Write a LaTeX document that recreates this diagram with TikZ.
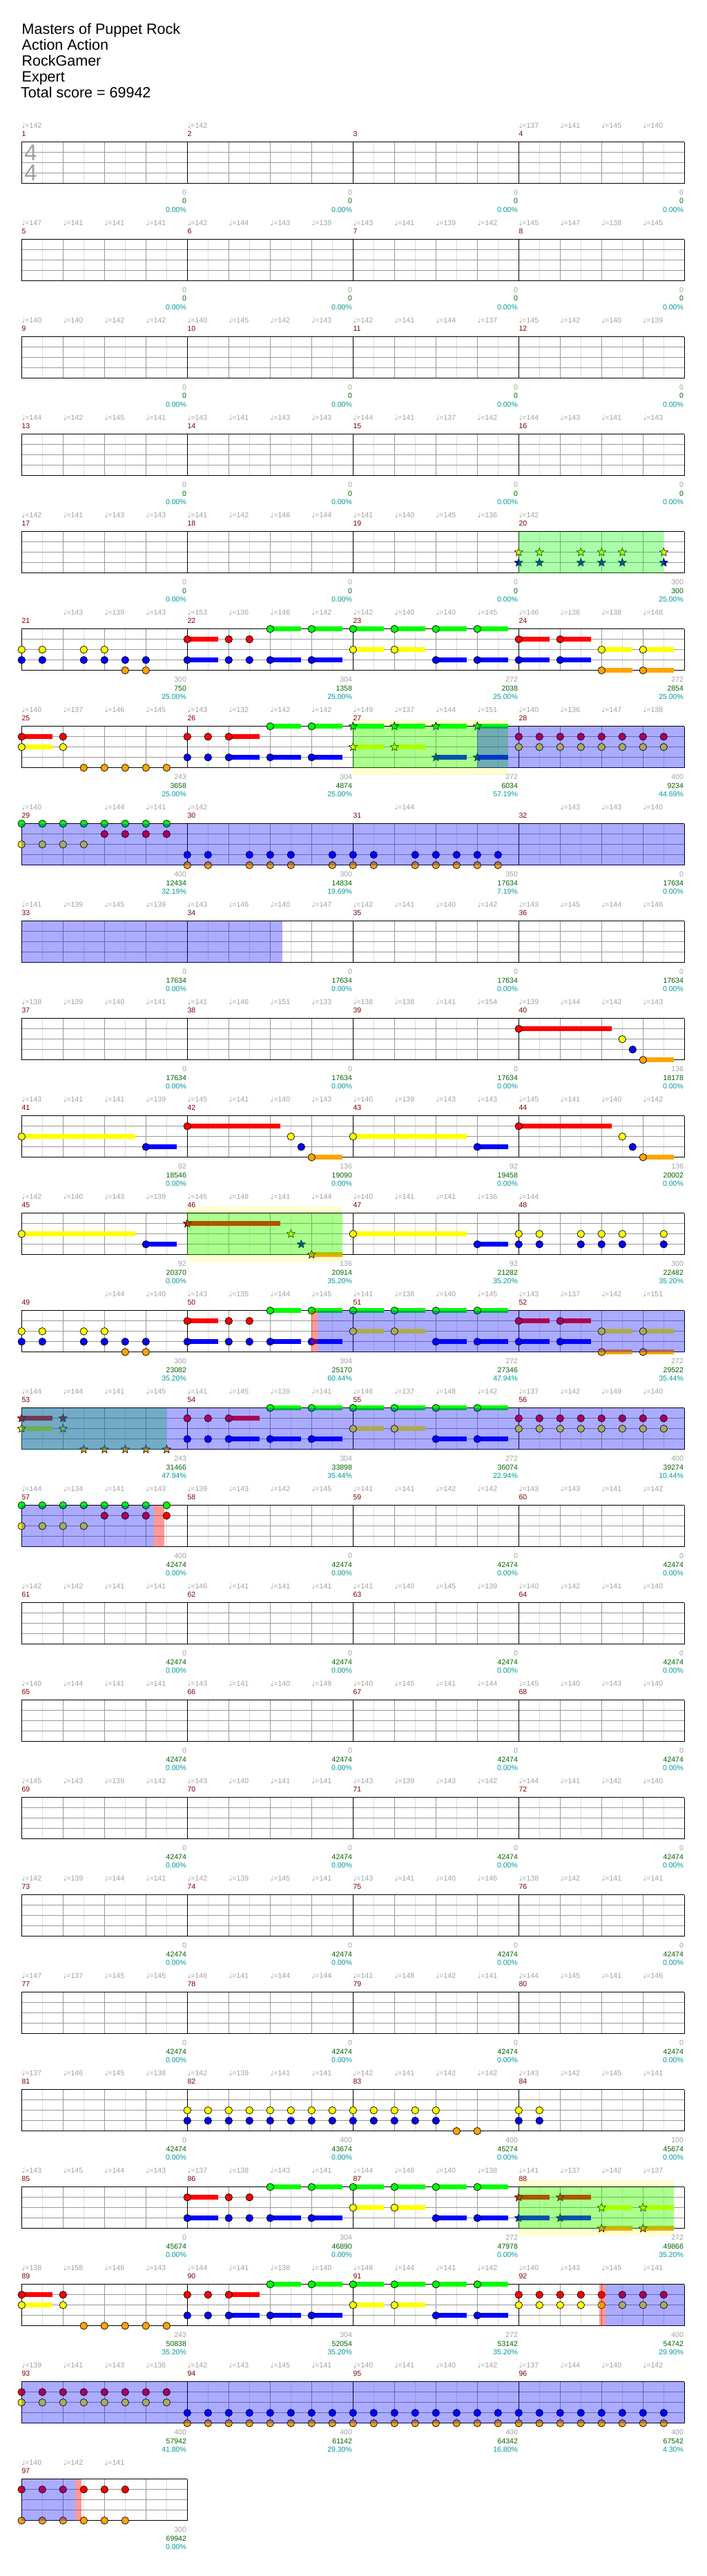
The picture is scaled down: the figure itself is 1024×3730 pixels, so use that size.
\documentclass[tikz,border=0pt]{standalone}
\usepackage{fontspec}
\setmainfont{Liberation Sans}
\newfontfamily\notefont{DejaVu Sans}
\usetikzlibrary{shapes.geometric}

\definecolor{gemgreen}{RGB}{0,255,0}
\definecolor{gemred}{RGB}{255,0,0}
\definecolor{gemyellow}{RGB}{255,255,0}
\definecolor{gemblue}{RGB}{0,0,255}
\definecolor{gemorange}{RGB}{255,165,0}
\definecolor{barred}{RGB}{128,0,0}
\definecolor{softgray}{RGB}{160,160,160}
\definecolor{beatgray}{RGB}{153,153,153}
\definecolor{halfgray}{RGB}{221,221,221}
\definecolor{totalgreen}{RGB}{0,100,0}
\definecolor{pctcyan}{RGB}{0,153,153}
\definecolor{bandyellow}{RGB}{255,255,208}

\newcommand{\qn}{{\notefont ♩}}
\newcommand{\smallfont}{\fontsize{10.5}{11}\selectfont}

\tikzset{
    gem/.style={circle, draw=black, line width=0.7pt, inner sep=0pt, minimum size=10.5pt},
    stargem/.style={star, star points=5, star point ratio=2.3, draw=black, line width=0.6pt, inner sep=0pt, minimum size=12.5pt},
    lane0/.style={fill=gemgreen},
    lane1/.style={fill=gemred},
    lane2/.style={fill=gemyellow},
    lane3/.style={fill=gemblue},
    lane4/.style={fill=gemorange},
    halfline/.style={draw=halfgray, line width=1pt},
    beatline/.style={draw=beatgray, line width=1pt},
    barline/.style={draw=black, line width=1pt},
    tempo/.style={font=\smallfont, text=softgray, anchor=base west, inner sep=0pt},
    barno/.style={font=\smallfont, text=barred, anchor=base west, inner sep=0pt},
    pts/.style={font=\smallfont, text=softgray, anchor=base east, inner sep=0pt},
    total/.style={font=\smallfont, text=totalgreen, anchor=base east, inner sep=0pt},
    pct/.style={font=\smallfont, text=pctcyan, anchor=base east, inner sep=0pt},
    title/.style={font=\fontsize{21.5}{23}\selectfont, anchor=base west, inner sep=0pt},
    timesig/.style={font=\fontsize{33}{33}\selectfont, text=softgray, inner sep=0pt},
    spzone/.style={fill=gemgreen, fill opacity=0.33},
    odzone/.style={fill=gemblue, fill opacity=0.33},
    endzone/.style={fill=gemred, fill opacity=0.4},
    spband/.style={fill=bandyellow}
}

% staff of #1 measures, local units: eighth notes across, lanes down
\newcommand{\fretgrid}[1]{%
    \pgfmathtruncatemacro{\nend}{8*#1}%
    \pgfmathtruncatemacro{\nlast}{8*#1-1}%
    \foreach \pa in {1,3,...,\nlast} \draw[halfline] (\pa,0) -- (\pa,4);
    \foreach \pa in {2,4,...,\nlast} \draw[beatline] (\pa,0) -- (\pa,4);
    \foreach \la in {1,2,3} \draw[beatline] (0,\la) -- (\nend,\la);
    \foreach \pa in {0,8,...,\nend} \draw[barline] (\pa,0) -- (\pa,4);
    \draw[barline] (0,0) -- (\nend,0) (0,4) -- (\nend,4);
}
% #1 row, #2 first measure, #3 measures
\newcommand{\barnos}[3]{%
    \foreach \k in {1,...,#3} {
        \pgfmathtruncatemacro{\mm}{#2+\k-1}
        \node[barno] (bar\mm) at (8*\k-8,-0.533) {\mm};
    }
}
\newcommand{\alltempos}[2]{%
    \foreach \v [count=\i from 0] in {#2}
        \node[tempo] (tp#1-\i) at (2*\i,-1.333) {\qn=\v};
}
\newcommand{\sometempos}[2]{%
    \foreach \b/\v in {#2}
        \node[tempo] (tp#1-\b) at (\b,-1.333) {\qn=\v};
}
\newcommand{\scores}[2]{%
    \foreach \a/\b/\c [count=\k] in {#2} {
        \node[pts] (pts#1-\k) at (8*\k-0.04,5.1) {\a};
        \node[total] (tot#1-\k) at (8*\k-0.04,5.953) {\b};
        \node[pct] (pct#1-\k) at (8*\k-0.04,6.8) {\c};
    }
}
\newcommand{\holds}[1]{%
    \foreach \pa/\la/\pb in {#1}
        \fill[lane\la] (\pa,\la-0.233) rectangle (\pb,\la+0.233);
}
\newcommand{\gems}[2]{%
    \foreach \pa/\la [count=\i] in {#2}
        \node[gem, lane\la] (g#1-\i) at (\pa,\la) {};
}
\newcommand{\stars}[2]{%
    \foreach \pa/\la [count=\i] in {#2}
        \node[stargem, lane\la] (s#1-\i) at (\pa,\la) {};
}
\newcommand{\zeroscores}[2]{%
    \scores{#1}{0/#2/0.00\%, 0/#2/0.00\%, 0/#2/0.00\%, 0/#2/0.00\%}
}

\begin{document}
\begin{tikzpicture}[x=1pt, y=-1pt]
    \useasboundingbox (0,0) rectangle (1024,3730);

    \node[title] (song)   at (31.5,49.3)  {Masters of Puppet Rock};
    \node[title] (artist) at (31.5,72.3)  {Action Action};
    \node[title] (player) at (31.5,95.3)  {RockGamer};
    \node[title] (level)  at (31.5,118.3) {Expert};
    \node[title] (score)  at (30,141.3)   {Total score = 69942};

    % row 1
    \begin{scope}[shift={(31.3,205.7)}, x=30pt, y=-15pt]
        \fretgrid{4}
        \node[timesig] (sigtop) at (0.44,1.02) {4};
        \node[timesig] (sigbot) at (0.44,2.99) {4};
        \barnos{1}{1}{4}
        \sometempos{1}{0/142, 8/142, 24/137, 26/141, 28/145, 30/140}
        \zeroscores{1}{0}
    \end{scope}

    % row 2
    \begin{scope}[shift={(31.3,346.7)}, x=30pt, y=-15pt]
        \fretgrid{4}
        \barnos{2}{5}{4}
        \alltempos{2}{147,141,141,141,142,144,143,139,143,141,139,142,145,147,138,145}
        \zeroscores{2}{0}
    \end{scope}

    % row 3
    \begin{scope}[shift={(31.3,487.7)}, x=30pt, y=-15pt]
        \fretgrid{4}
        \barnos{3}{9}{4}
        \alltempos{3}{140,140,142,142,140,145,142,143,142,141,144,137,145,142,140,139}
        \zeroscores{3}{0}
    \end{scope}

    % row 4
    \begin{scope}[shift={(31.3,628.7)}, x=30pt, y=-15pt]
        \fretgrid{4}
        \barnos{4}{13}{4}
        \alltempos{4}{144,142,145,141,143,141,143,143,144,141,137,142,144,143,141,143}
        \zeroscores{4}{0}
    \end{scope}

    % row 5
    \begin{scope}[shift={(31.3,769.7)}, x=30pt, y=-15pt]
        \fretgrid{4}
        \stars{5}{24/2, 25/2, 27/2, 28/2, 29/2, 31/2, 24/3, 25/3, 27/3, 28/3, 29/3, 31/3}
        \fill[spzone] (24,0) rectangle (31,4);
        \barnos{5}{17}{4}
        \alltempos{5}{142,141,143,143,141,142,146,144,141,140,145,136,142}
        \scores{5}{0/0/0.00\%, 0/0/0.00\%, 0/0/0.00\%, 300/300/25.00\%}
    \end{scope}

    % row 6
    \begin{scope}[shift={(31.3,910.7)}, x=30pt, y=-15pt]
        \fretgrid{4}
        \holds{8/1/9.5, 8/3/9.5, 12/0/13.5, 14/0/15.5, 12/3/13.5, 14/3/15.5,
            16/0/17.5, 18/0/19.5, 20/0/21.5, 22/0/23.5, 16/2/17.5, 18/2/19.5, 20/3/21.5, 22/3/23.5,
            24/1/25.5, 26/1/27.5, 24/3/25.5, 26/3/27.5, 28/2/29.5, 30/2/31.5, 28/4/29.5, 30/4/31.5}
        \gems{6}{0/2, 1/2, 3/2, 4/2, 0/3, 1/3, 3/3, 4/3, 5/3, 6/3, 5/4, 6/4,
            8/1, 10/1, 11/1, 8/3, 10/3, 11/3, 12/3, 14/3, 12/0, 14/0,
            16/0, 18/0, 20/0, 22/0, 16/2, 18/2, 20/3, 22/3,
            24/1, 26/1, 24/3, 26/3, 28/2, 30/2, 28/4, 30/4}
        \barnos{6}{21}{4}
        \sometempos{6}{2/143, 4/139, 6/143, 8/153, 10/136, 12/146, 14/142, 16/142, 18/140, 20/140, 22/145, 24/146, 26/136, 28/138, 30/148}
        \scores{6}{300/750/25.00\%, 304/1358/25.00\%, 272/2038/25.00\%, 272/2854/25.00\%}
    \end{scope}

    % row 7
    \begin{scope}[shift={(31.3,1051.7)}, x=30pt, y=-15pt]
        \fill[spband] (16,-0.667) rectangle (23.5,4.667);
        \fretgrid{4}
        \holds{0/1/1.5, 0/2/1.5, 10/1/11.5, 10/3/11.5, 12/3/13.5, 14/3/15.5, 12/0/13.5, 14/0/15.5,
            16/0/17.5, 18/0/19.5, 20/0/21.5, 22/0/23.5, 16/2/17.5, 18/2/19.5, 20/3/21.5, 22/3/23.5}
        \gems{7}{0/1, 2/1, 0/2, 2/2, 3/4, 4/4, 5/4, 6/4, 7/4,
            8/1, 9/1, 10/1, 8/3, 9/3, 10/3, 12/3, 14/3, 12/0, 14/0,
            24/1, 25/1, 26/1, 27/1, 28/1, 29/1, 30/1, 31/1,
            24/2, 25/2, 26/2, 27/2, 28/2, 29/2, 30/2, 31/2}
        \stars{7}{16/0, 18/0, 20/0, 22/0, 16/2, 18/2, 20/3, 22/3}
        \fill[spzone] (16,0) rectangle (23.5,4);
        \fill[odzone] (22,0) rectangle (32,4);
        \barnos{7}{25}{4}
        \alltempos{7}{140,137,146,145,143,132,142,142,149,137,144,151,140,136,147,138}
        \scores{7}{243/3658/25.00\%, 304/4874/25.00\%, 272/6034/57.19\%, 400/9234/44.69\%}
    \end{scope}

    % row 8
    \begin{scope}[shift={(31.3,1192.7)}, x=30pt, y=-15pt]
        \fretgrid{4}
        \gems{8}{0/0, 1/0, 2/0, 3/0, 4/0, 5/0, 6/0, 7/0, 4/1, 5/1, 6/1, 7/1, 0/2, 1/2, 2/2, 3/2,
            8/3, 9/3, 11/3, 12/3, 13/3, 15/3, 16/3, 17/3, 19/3, 20/3, 21/3, 22/3, 23/3,
            8/4, 9/4, 11/4, 12/4, 13/4, 15/4, 16/4, 17/4, 19/4, 20/4, 21/4, 22/4, 23/4}
        \fill[odzone] (0,0) rectangle (32,4);
        \barnos{8}{29}{4}
        \sometempos{8}{0/140, 4/144, 6/141, 8/142, 18/144, 26/143, 28/143, 30/140}
        \scores{8}{400/12434/32.19\%, 300/14834/19.69\%, 350/17634/7.19\%, 0/17634/0.00\%}
    \end{scope}

    % row 9
    \begin{scope}[shift={(31.3,1333.7)}, x=30pt, y=-15pt]
        \fretgrid{4}
        \fill[odzone] (0,0) rectangle (12.6,4);
        \barnos{9}{33}{4}
        \alltempos{9}{141,139,145,139,143,146,140,147,142,141,140,142,143,145,144,146}
        \zeroscores{9}{17634}
    \end{scope}

    % row 10
    \begin{scope}[shift={(31.3,1474.7)}, x=30pt, y=-15pt]
        \fretgrid{4}
        \holds{24/1/28.5, 30/4/31.5}
        \gems{10}{24/1, 29/2, 29.5/3, 30/4}
        \barnos{10}{37}{4}
        \alltempos{10}{138,139,140,141,141,146,151,133,138,138,141,154,139,144,142,143}
        \scores{10}{0/17634/0.00\%, 0/17634/0.00\%, 0/17634/0.00\%, 136/18178/0.00\%}
    \end{scope}

    % row 11
    \begin{scope}[shift={(31.3,1615.7)}, x=30pt, y=-15pt]
        \fretgrid{4}
        \holds{0/2/5.5, 6/3/7.5, 8/1/12.5, 14/4/15.5, 16/2/21.5, 22/3/23.5, 24/1/28.5, 30/4/31.5}
        \gems{11}{0/2, 6/3, 8/1, 13/2, 13.5/3, 14/4, 16/2, 22/3, 24/1, 29/2, 29.5/3, 30/4}
        \barnos{11}{41}{4}
        \alltempos{11}{143,141,141,139,145,141,140,143,140,139,143,143,145,141,140,142}
        \scores{11}{92/18546/0.00\%, 136/19090/0.00\%, 92/19458/0.00\%, 136/20002/0.00\%}
    \end{scope}

    % row 12
    \begin{scope}[shift={(31.3,1756.7)}, x=30pt, y=-15pt]
        \fill[spband] (8,-0.667) rectangle (15.5,4.667);
        \fretgrid{4}
        \holds{0/2/5.5, 6/3/7.5, 8/1/12.5, 14/4/15.5, 16/2/21.5, 22/3/23.5}
        \gems{12}{0/2, 6/3, 16/2, 22/3, 24/2, 25/2, 27/2, 28/2, 29/2, 31/2,
            24/3, 25/3, 27/3, 28/3, 29/3, 31/3}
        \stars{12}{8/1, 13/2, 13.5/3, 14/4}
        \fill[spzone] (8,0) rectangle (15.5,4);
        \barnos{12}{45}{4}
        \sometempos{12}{0/142, 2/140, 4/143, 6/139, 8/145, 10/148, 12/141, 14/144, 16/140, 18/141, 20/141, 22/136, 24/144}
        \scores{12}{92/20370/0.00\%, 136/20914/35.20\%, 92/21282/35.20\%, 300/22482/35.20\%}
    \end{scope}

    % row 13
    \begin{scope}[shift={(31.3,1897.7)}, x=30pt, y=-15pt]
        \fretgrid{4}
        \holds{8/1/9.5, 8/3/9.5, 12/0/13.5, 14/0/15.5, 12/3/13.5, 14/3/15.5,
            16/0/17.5, 18/0/19.5, 20/0/21.5, 22/0/23.5, 16/2/17.5, 18/2/19.5, 20/3/21.5, 22/3/23.5,
            24/1/25.5, 26/1/27.5, 24/3/25.5, 26/3/27.5, 28/2/29.5, 30/2/31.5, 28/4/29.5, 30/4/31.5}
        \gems{13}{0/2, 1/2, 3/2, 4/2, 0/3, 1/3, 3/3, 4/3, 5/3, 6/3, 5/4, 6/4,
            8/1, 10/1, 11/1, 8/3, 10/3, 11/3, 12/3, 14/3, 12/0, 14/0,
            16/0, 18/0, 20/0, 22/0, 16/2, 18/2, 20/3, 22/3,
            24/1, 26/1, 24/3, 26/3, 28/2, 30/2, 28/4, 30/4}
        \fill[endzone] (14,0) rectangle (14.3,4);
        \fill[odzone] (14.3,0) rectangle (32,4);
        \barnos{13}{49}{4}
        \sometempos{13}{4/144, 6/140, 8/143, 10/135, 12/144, 14/145, 16/141, 18/138, 20/140, 22/145, 24/143, 26/137, 28/142, 30/151}
        \scores{13}{300/23082/35.20\%, 304/25170/60.44\%, 272/27346/47.94\%, 272/29522/35.44\%}
    \end{scope}

    % row 14
    \begin{scope}[shift={(31.3,2038.7)}, x=30pt, y=-15pt]
        \fretgrid{4}
        \holds{0/1/1.5, 0/2/1.5, 10/1/11.5, 10/3/11.5, 12/3/13.5, 14/3/15.5, 12/0/13.5, 14/0/15.5,
            16/0/17.5, 18/0/19.5, 20/0/21.5, 22/0/23.5, 16/2/17.5, 18/2/19.5, 20/3/21.5, 22/3/23.5}
        \gems{14}{8/1, 9/1, 10/1, 8/3, 9/3, 10/3, 12/3, 14/3, 12/0, 14/0,
            16/0, 18/0, 20/0, 22/0, 16/2, 18/2, 20/3, 22/3,
            24/1, 25/1, 26/1, 27/1, 28/1, 29/1, 30/1, 31/1,
            24/2, 25/2, 26/2, 27/2, 28/2, 29/2, 30/2, 31/2}
        \stars{14}{0/1, 2/1, 0/2, 2/2, 3/4, 4/4, 5/4, 6/4, 7/4}
        \fill[spzone] (0,0) rectangle (7,4);
        \fill[odzone] (0,0) rectangle (32,4);
        \barnos{14}{53}{4}
        \alltempos{14}{144,144,141,145,141,145,139,141,146,137,148,142,137,142,149,140}
        \scores{14}{243/31466/47.94\%, 304/33898/35.44\%, 272/36074/22.94\%, 400/39274/10.44\%}
    \end{scope}

    % row 15
    \begin{scope}[shift={(31.3,2179.7)}, x=30pt, y=-15pt]
        \fretgrid{4}
        \gems{15}{0/0, 1/0, 2/0, 3/0, 4/0, 5/0, 6/0, 7/0, 4/1, 5/1, 6/1, 7/1, 0/2, 1/2, 2/2, 3/2}
        \fill[odzone] (0,0) rectangle (6.4,4);
        \fill[endzone] (6.4,0) rectangle (6.9,4);
        \barnos{15}{57}{4}
        \alltempos{15}{144,134,141,143,139,143,142,145,141,141,142,142,143,143,141,142}
        \scores{15}{400/42474/0.00\%, 0/42474/0.00\%, 0/42474/0.00\%, 0/42474/0.00\%}
    \end{scope}

    % rows 16 to 20, no notes
    \begin{scope}[shift={(31.3,2320.7)}, x=30pt, y=-15pt]
        \fretgrid{4}
        \barnos{16}{61}{4}
        \alltempos{16}{142,142,141,141,146,141,141,141,141,140,145,139,140,142,141,140}
        \zeroscores{16}{42474}
    \end{scope}
    \begin{scope}[shift={(31.3,2461.7)}, x=30pt, y=-15pt]
        \fretgrid{4}
        \barnos{17}{65}{4}
        \alltempos{17}{140,144,141,141,143,141,140,149,140,145,141,144,145,140,143,140}
        \zeroscores{17}{42474}
    \end{scope}
    \begin{scope}[shift={(31.3,2602.7)}, x=30pt, y=-15pt]
        \fretgrid{4}
        \barnos{18}{69}{4}
        \alltempos{18}{145,143,139,142,143,140,141,141,143,139,143,142,144,141,142,140}
        \zeroscores{18}{42474}
    \end{scope}
    \begin{scope}[shift={(31.3,2743.7)}, x=30pt, y=-15pt]
        \fretgrid{4}
        \barnos{19}{73}{4}
        \alltempos{19}{142,139,144,141,142,139,145,141,143,141,140,146,138,142,141,141}
        \zeroscores{19}{42474}
    \end{scope}
    \begin{scope}[shift={(31.3,2884.7)}, x=30pt, y=-15pt]
        \fretgrid{4}
        \barnos{20}{77}{4}
        \alltempos{20}{147,137,145,145,146,141,144,144,141,148,142,141,144,145,141,146}
        \zeroscores{20}{42474}
    \end{scope}

    % row 21
    \begin{scope}[shift={(31.3,3025.7)}, x=30pt, y=-15pt]
        \fretgrid{4}
        \gems{21}{8/2, 9/2, 10/2, 11/2, 12/2, 13/2, 14/2, 15/2, 8/3, 9/3, 10/3, 11/3, 12/3, 13/3, 14/3, 15/3,
            16/2, 17/2, 18/2, 19/2, 20/2, 16/3, 17/3, 18/3, 19/3, 20/3, 21/4, 22/4,
            24/2, 25/2, 24/3, 25/3}
        \barnos{21}{81}{4}
        \alltempos{21}{137,146,145,138,142,139,141,141,142,141,142,142,143,142,145,141}
        \scores{21}{0/42474/0.00\%, 400/43674/0.00\%, 400/45274/0.00\%, 100/45674/0.00\%}
    \end{scope}

    % row 22
    \begin{scope}[shift={(31.3,3166.7)}, x=30pt, y=-15pt]
        \fill[spband] (24,-0.667) rectangle (31.5,4.667);
        \fretgrid{4}
        \holds{8/1/9.5, 8/3/9.5, 12/0/13.5, 14/0/15.5, 12/3/13.5, 14/3/15.5,
            16/0/17.5, 18/0/19.5, 20/0/21.5, 22/0/23.5, 16/2/17.5, 18/2/19.5, 20/3/21.5, 22/3/23.5,
            24/1/25.5, 26/1/27.5, 24/3/25.5, 26/3/27.5, 28/2/29.5, 30/2/31.5, 28/4/29.5, 30/4/31.5}
        \gems{22}{8/1, 10/1, 11/1, 8/3, 10/3, 11/3, 12/3, 14/3, 12/0, 14/0,
            16/0, 18/0, 20/0, 22/0, 16/2, 18/2, 20/3, 22/3}
        \stars{22}{24/1, 26/1, 24/3, 26/3, 28/2, 30/2, 28/4, 30/4}
        \fill[spzone] (24,0) rectangle (31.5,4);
        \barnos{22}{85}{4}
        \alltempos{22}{143,145,144,143,137,138,143,141,144,146,140,138,141,137,142,137}
        \scores{22}{0/45674/0.00\%, 304/46890/0.00\%, 272/47978/0.00\%, 272/49866/35.20\%}
    \end{scope}

    % row 23
    \begin{scope}[shift={(31.3,3307.7)}, x=30pt, y=-15pt]
        \fretgrid{4}
        \holds{0/1/1.5, 0/2/1.5, 10/1/11.5, 10/3/11.5, 12/3/13.5, 14/3/15.5, 12/0/13.5, 14/0/15.5,
            16/0/17.5, 18/0/19.5, 20/0/21.5, 22/0/23.5, 16/2/17.5, 18/2/19.5, 20/3/21.5, 22/3/23.5}
        \gems{23}{0/1, 2/1, 0/2, 2/2, 3/4, 4/4, 5/4, 6/4, 7/4,
            8/1, 9/1, 10/1, 8/3, 9/3, 10/3, 12/3, 14/3, 12/0, 14/0,
            16/0, 18/0, 20/0, 22/0, 16/2, 18/2, 20/3, 22/3,
            24/1, 25/1, 26/1, 27/1, 28/1, 29/1, 30/1, 31/1,
            24/2, 25/2, 26/2, 27/2, 28/2, 29/2, 30/2, 31/2}
        \fill[endzone] (27.9,0) rectangle (28.2,4);
        \fill[odzone] (28.2,0) rectangle (32,4);
        \barnos{23}{89}{4}
        \alltempos{23}{138,158,146,143,144,141,138,140,148,144,141,142,140,143,145,141}
        \scores{23}{243/50838/35.20\%, 304/52054/35.20\%, 272/53142/35.20\%, 400/54742/29.90\%}
    \end{scope}

    % row 24
    \begin{scope}[shift={(31.3,3448.7)}, x=30pt, y=-15pt]
        \fretgrid{4}
        \gems{24}{0/1, 1/1, 2/1, 3/1, 4/1, 5/1, 6/1, 7/1, 0/2, 1/2, 2/2, 3/2, 4/2, 5/2, 6/2, 7/2}
        \foreach \pa in {8,...,31} {
            \node[gem, lane3] (b24-\pa) at (\pa,3) {};
            \node[gem, lane4] (o24-\pa) at (\pa,4) {};
        }
        \fill[odzone] (0,0) rectangle (32,4);
        \barnos{24}{93}{4}
        \alltempos{24}{139,141,143,136,142,143,145,141,140,141,140,142,137,144,140,142}
        \scores{24}{400/57942/41.80\%, 400/61142/29.30\%, 400/64342/16.80\%, 400/67542/4.30\%}
    \end{scope}

    % row 25
    \begin{scope}[shift={(31.3,3589.7)}, x=30pt, y=-15pt]
        \fretgrid{1}
        \gems{25}{0/1, 1/1, 2/1, 3/1, 4/1, 5/1, 0/4, 1/4, 2/4, 3/4, 4/4, 5/4}
        \fill[odzone] (0,0) rectangle (2.6,4);
        \fill[endzone] (2.6,0) rectangle (2.9,4);
        \barnos{25}{97}{1}
        \sometempos{25}{0/140, 2/142, 4/141}
        \scores{25}{300/69942/0.00\%}
    \end{scope}

\end{tikzpicture}
\end{document}
